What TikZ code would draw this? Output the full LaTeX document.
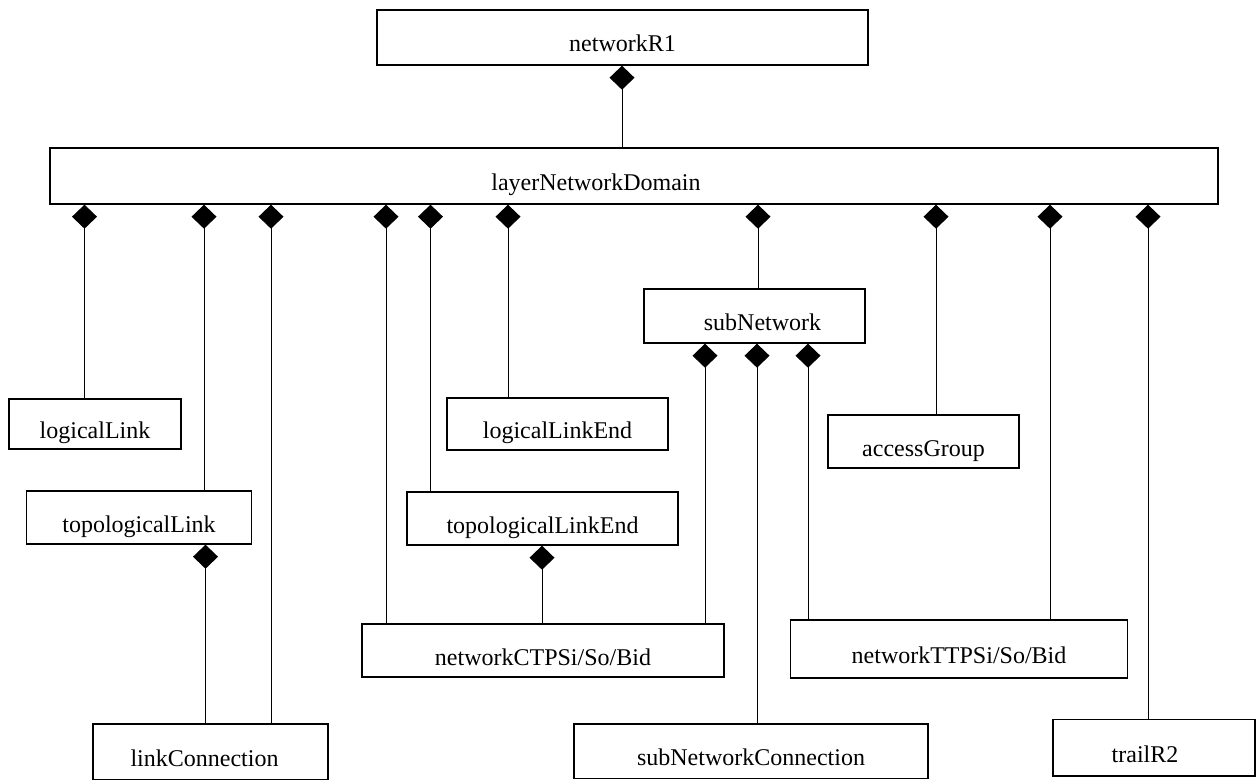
\documentclass[tikz,border=0pt]{standalone}
\usepackage{fontspec}
\setmainfont{Liberation Serif}
\usetikzlibrary{arrows.meta}

\begin{document}
\begin{tikzpicture}[x=0.5pt,y=-0.5pt,
		cls/.style={draw,line width=0.7pt,inner ysep=0pt,text height=16pt,text depth=1.5pt,font=\fontsize{12}{14}\selectfont},
		comp/.style={line width=0.5pt,-{Diamond[length=12pt,width=12.5pt]}}]
	\useasboundingbox (0,0) rectangle (1256,780);
		%top
			\node[cls,minimum width=245.5pt,minimum height=27.5pt] (networkR1) at (622.5,37.5) {networkR1};
			\node[cls,minimum width=584pt,minimum height=28pt] (layerNetworkDomain) at (634,176) {layerNetworkDomain\hspace*{38pt}};
		%middle row
			\node[cls,minimum width=86pt,minimum height=25pt] (logicalLink) at (95,424) {logicalLink};
			\node[cls,minimum width=112.5pt,minimum height=26.5pt] (topologicalLink) at (139,517.5) {topologicalLink};
			\node[cls,minimum width=110.5pt,minimum height=26pt] (logicalLinkEnd) at (557.5,424) {logicalLinkEnd};
			\node[cls,minimum width=135.5pt,minimum height=26.5pt] (topologicalLinkEnd) at (542.5,518.5) {topologicalLinkEnd};
			\node[cls,minimum width=110.5pt,minimum height=27pt] (subNetwork) at (754.5,316) {\hspace*{8pt}subNetwork};
			\node[cls,minimum width=95.5pt,minimum height=26.5pt] (accessGroup) at (923.5,441.5) {accessGroup};
		%termination points
			\node[cls,minimum width=181pt,minimum height=26.5pt] (networkCTP) at (543,650.5) {networkCTPSi/So/Bid};
			\node[cls,minimum width=168.5pt,minimum height=29pt] (networkTTP) at (959,649) {networkTTPSi/So/Bid};
		%bottom row
			\node[cls,minimum width=117.5pt,minimum height=27.75pt] (linkConnection) at (210.5,751.75) {linkConnection\hspace*{6pt}};
			\node[cls,minimum width=177pt,minimum height=27.25pt] (subNetworkConnection) at (751,751.25) {subNetworkConnection};
			\node[cls,minimum width=101pt,minimum height=28.25pt] (trailR2) at (1154,747.75) {trailR2\hspace*{9pt}};
		%composition lines
			\draw[comp] (layerNetworkDomain.north -| 622,0) -- (networkR1.south -| 622,0);
			\draw[comp] (logicalLink.north -| 84.5,0) -- (layerNetworkDomain.south -| 84.5,0);
			\draw[comp] (topologicalLink.north -| 204,0) -- (layerNetworkDomain.south -| 204,0);
			\draw[comp] (linkConnection.north -| 271,0) -- (layerNetworkDomain.south -| 271,0);
			\draw[comp] (networkCTP.north -| 386,0) -- (layerNetworkDomain.south -| 386,0);
			\draw[comp] (topologicalLinkEnd.north -| 430.5,0) -- (layerNetworkDomain.south -| 430.5,0);
			\draw[comp] (logicalLinkEnd.north -| 508,0) -- (layerNetworkDomain.south -| 508,0);
			\draw[comp] (subNetwork.north -| 758,0) -- (layerNetworkDomain.south -| 758,0);
			\draw[comp] (accessGroup.north -| 936,0) -- (layerNetworkDomain.south -| 936,0);
			\draw[comp] (networkTTP.north -| 1050,0) -- (layerNetworkDomain.south -| 1050,0);
			\draw[comp] (trailR2.north -| 1148,0) -- (layerNetworkDomain.south -| 1148,0);
			\draw[comp] (linkConnection.north -| 205.5,0) -- (topologicalLink.south -| 205.5,0);
			\draw[comp] (networkCTP.north -| 542,0) -- (topologicalLinkEnd.south -| 542,0);
			\draw[comp] (networkCTP.north -| 705,0) -- (subNetwork.south -| 705,0);
			\draw[comp] (subNetworkConnection.north -| 757,0) -- (subNetwork.south -| 757,0);
			\draw[comp] (networkTTP.north -| 808,0) -- (subNetwork.south -| 808,0);
	\end{tikzpicture}
\end{document}
